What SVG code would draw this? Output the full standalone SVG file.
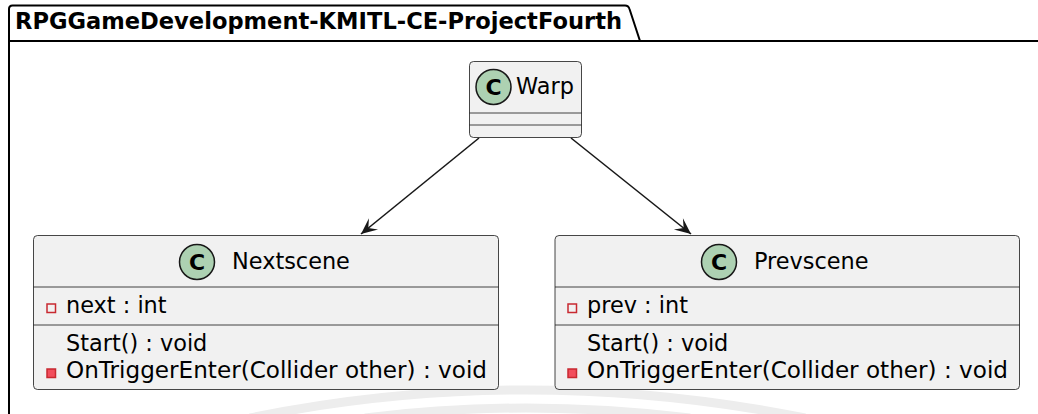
<svg xmlns="http://www.w3.org/2000/svg" width="1038" height="414" viewBox="0 0 1038 414">
  <style>
    .txt { font-family: "DejaVu Sans", "Liberation Sans", sans-serif; fill: #000000; }
    .name { font-size: 22.4px; }
    .member { font-size: 22.4px; }
    .box { fill: #F1F1F1; stroke: #181818; stroke-width: 0.8; }
    .sep { stroke: #181818; stroke-width: 0.8; }
    .spot { fill: #ADD1B2; stroke: #181818; stroke-width: 1.5; }
    .spotchar { font-family: "DejaVu Sans", "Liberation Sans", sans-serif; font-weight: bold; font-size: 22px; fill: #000000; }
    .priv-field { fill: none; stroke: #C82930; stroke-width: 1.5; }
    .priv-method { fill: #F24D5C; stroke: #C82930; stroke-width: 1.5; }
    .edge { stroke: #181818; stroke-width: 1.6; fill: none; }
    .wm { fill: none; stroke: #EDEDED; stroke-width: 9; }
  </style>
  <defs>
    <marker id="arrow" markerUnits="userSpaceOnUse" markerWidth="20" markerHeight="20" viewBox="-16 -8 18 16" refX="0" refY="0" orient="auto">
      <path d="M0,0 L-14.5,-6.5 L-8.5,0 L-14.5,6.5 Z" fill="#181818"/>
    </marker>
  </defs>

  <rect width="1038" height="414" fill="#FFFFFF"/>

  <!-- faint background arcs -->
  <path class="wm" d="M250,418 Q525,362 805,418"/>
  <path class="wm" d="M365,418 Q525,398 690,418"/>

  <!-- package frame -->
  <g id="package">
    <path d="M9,420 V41 H1040" fill="none" stroke="#000000" stroke-width="2"/>
    <path d="M9,41 V9 Q9,5.5 12.5,5.5 H625 Q628.5,5.5 629.5,9 L640,41" fill="none" stroke="#000000" stroke-width="2"/>
    <text class="txt" x="15" y="29" font-size="22.4" font-weight="bold" textLength="607" lengthAdjust="spacingAndGlyphs">RPGGameDevelopment-KMITL-CE-ProjectFourth</text>
  </g>

  <!-- connectors -->
  <g id="connectors">
    <line class="edge" x1="479" y1="138" x2="361" y2="234" marker-end="url(#arrow)"/>
    <line class="edge" x1="571" y1="138" x2="691" y2="234" marker-end="url(#arrow)"/>
  </g>

  <!-- class Warp -->
  <g id="Warp">
    <rect class="box" x="469.5" y="61.5" width="112" height="76" rx="4"/>
    <line class="sep" x1="469.5" y1="113" x2="581.5" y2="113"/>
    <line class="sep" x1="469.5" y1="125" x2="581.5" y2="125"/>
    <circle class="spot" cx="493.5" cy="87" r="17.5"/>
    <text class="spotchar" x="493.5" y="95" text-anchor="middle">C</text>
    <text class="txt name" x="516" y="94">Warp</text>
  </g>

  <!-- class Nextscene -->
  <g id="Nextscene">
    <rect class="box" x="33.5" y="235.5" width="465" height="154" rx="4"/>
    <line class="sep" x1="33.5" y1="287" x2="498.5" y2="287"/>
    <line class="sep" x1="33.5" y1="325" x2="498.5" y2="325"/>
    <circle class="spot" cx="197" cy="262" r="17.5"/>
    <text class="spotchar" x="197" y="270" text-anchor="middle">C</text>
    <text class="txt name" x="232" y="269">Nextscene</text>
    <rect class="priv-field" x="47" y="304" width="8.5" height="8.5"/>
    <text class="txt member" x="66" y="313">next : int</text>
    <text class="txt member" x="66" y="351">Start() : void</text>
    <rect class="priv-method" x="47" y="369" width="8.5" height="8.5"/>
    <text class="txt member" x="66" y="378" textLength="421" lengthAdjust="spacingAndGlyphs">OnTriggerEnter(Collider other) : void</text>
  </g>

  <!-- class Prevscene -->
  <g id="Prevscene">
    <rect class="box" x="555" y="235.5" width="464.5" height="154" rx="4"/>
    <line class="sep" x1="555" y1="287" x2="1019.5" y2="287"/>
    <line class="sep" x1="555" y1="325" x2="1019.5" y2="325"/>
    <circle class="spot" cx="719" cy="262" r="17.5"/>
    <text class="spotchar" x="719" y="270" text-anchor="middle">C</text>
    <text class="txt name" x="754" y="269">Prevscene</text>
    <rect class="priv-field" x="568" y="304" width="8.5" height="8.5"/>
    <text class="txt member" x="587" y="313">prev : int</text>
    <text class="txt member" x="587" y="351">Start() : void</text>
    <rect class="priv-method" x="568" y="369" width="8.5" height="8.5"/>
    <text class="txt member" x="587" y="378" textLength="421" lengthAdjust="spacingAndGlyphs">OnTriggerEnter(Collider other) : void</text>
  </g>
</svg>
